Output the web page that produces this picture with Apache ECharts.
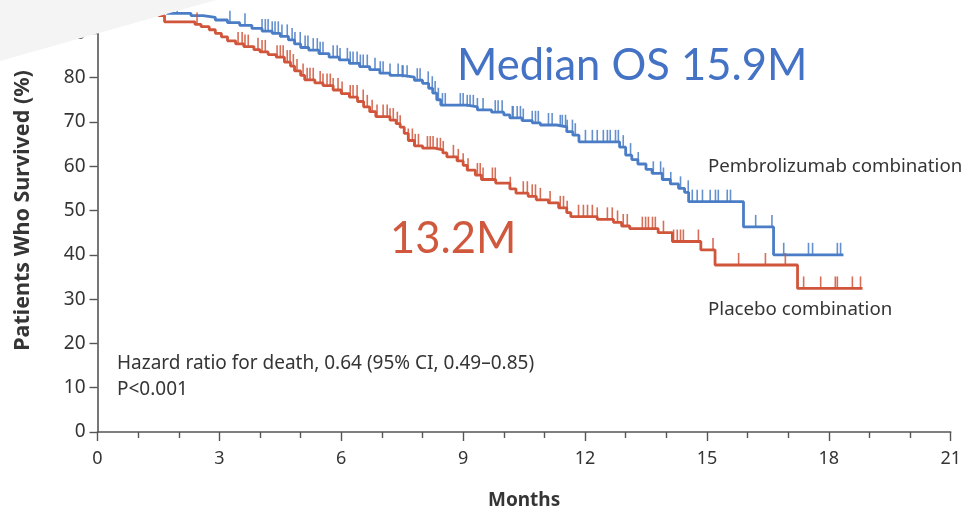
<!DOCTYPE html>
<html>
<head>
<meta charset="utf-8">
<script src="https://cdn.jsdelivr.net/npm/echarts@6/dist/echarts.min.js"></script>
<style>
  html, body { margin: 0; padding: 0; background: #ffffff; }
  #chart { width: 966px; height: 512px; }
</style>
</head>
<body>
<div id="chart"></div>
<script>
// Axis ticks
const monthTicks = [0, 3, 6, 9, 12, 15, 18, 21];
const survivalTicks = [0, 10, 20, 30, 40, 50, 60, 70, 80, 90, 100];

// Kaplan-Meier steps: [month, % surviving after the step]
const pembroSteps = [
  [0, 100], [0.25, 99.3], [0.5, 98.6], [0.8, 97.8], [1.05, 97], [1.3, 96], [1.5, 95.2], [1.7, 94.5],
  [2.3, 94], [2.6, 93.6], [2.9, 93], [3.2, 92.4], [3.5, 91.8], [3.8, 91.1], [4.05, 90.5], [4.3, 90],
  [4.5, 89.3], [4.7, 88.5], [4.85, 87.6], [5.0, 86.8], [5.2, 86.2], [5.45, 85.4], [5.7, 84.6],
  [5.95, 84], [6.2, 83.2], [6.45, 82.5], [6.7, 81.8], [6.95, 81], [7.2, 80.5], [7.5, 80.1],
  [7.8, 79.4], [8.0, 78.7], [8.15, 77.6], [8.25, 76.5], [8.35, 75], [8.45, 73.8], [9.1, 73.4],
  [9.35, 72.7], [9.7, 72.2], [10.0, 71.6], [10.15, 70.9], [10.45, 70.3], [10.7, 69.8], [10.9, 69.3],
  [11.3, 68.9], [11.55, 67.8], [11.7, 67], [11.85, 65.5], [12.85, 64.3], [13.0, 62.5], [13.15, 61.5],
  [13.3, 60.5], [13.5, 59.3], [13.65, 58.4], [13.9, 57], [14.1, 56], [14.3, 55], [14.45, 54.1],
  [14.55, 52], [15.9, 46.3], [16.64, 40], [18.36, 40]
];
const placeboSteps = [
  [0, 100], [0.3, 99.2], [0.6, 98.3], [0.9, 97.4], [1.15, 96.4], [1.35, 95.3], [1.5, 94], [1.65, 92.6],
  [2.4, 92], [2.55, 91.5], [2.75, 90.8], [2.9, 90], [3.05, 89.2], [3.2, 88.3], [3.4, 87.6], [3.6, 87],
  [3.85, 86.3], [4.0, 85.8], [4.2, 85.2], [4.4, 84.6], [4.6, 83.5], [4.75, 82.6], [4.85, 81.5],
  [5.0, 80.5], [5.1, 79.5], [5.35, 78.8], [5.55, 78.2], [5.8, 77.2], [6.0, 76.4], [6.2, 75.6],
  [6.4, 74.6], [6.55, 73.4], [6.7, 72.3], [6.85, 71.2], [7.2, 70.4], [7.35, 69.6], [7.45, 68.8],
  [7.55, 67.4], [7.65, 65.8], [7.8, 64.6], [8.0, 64.1], [8.3, 63.7], [8.5, 63], [8.6, 62.1],
  [8.85, 61.2], [9.0, 60.2], [9.1, 59.1], [9.3, 58], [9.45, 57], [9.8, 56.2], [10.15, 54.9],
  [10.3, 53.9], [10.6, 53.2], [10.8, 52.4], [11.1, 51.7], [11.35, 50.6], [11.55, 49.5], [11.65, 48.6],
  [12.3, 48], [12.7, 47.3], [12.9, 46.5], [13.1, 45.9], [13.8, 45], [14.15, 43], [14.85, 41.1],
  [15.2, 37.7], [17.23, 32.4], [18.83, 32.4]
];

// Censored observations (months)
const pembroCensored = [
  1.96, 3.26, 3.63, 4.05, 4.13, 4.2, 4.3, 4.37, 4.45, 4.54, 4.67, 4.79, 4.86, 4.99, 5.11, 5.18,
  5.31, 5.41, 5.48, 5.55, 5.8, 5.9, 5.97, 6.15, 6.22, 6.29, 6.39, 6.47, 6.54, 6.64, 6.83, 6.96,
  7.03, 7.2, 7.4, 7.5, 7.52, 7.62, 7.87, 7.94, 8.14, 8.24, 8.31, 8.39, 8.49, 8.56, 8.93, 9.0,
  9.1, 9.17, 9.25, 9.35, 9.49, 9.79, 9.86, 9.96, 10.21, 10.23, 10.33, 10.41, 10.48, 10.7, 10.78,
  10.85, 11.1, 11.19, 11.39, 11.44, 11.52, 11.56, 11.69, 11.76, 12.01, 12.18, 12.3, 12.45, 12.55,
  12.62, 12.75, 12.82, 12.94, 13.12, 13.31, 13.68, 13.86, 13.93, 14.11, 14.35, 14.54, 14.64,
  14.76, 14.89, 15.08, 15.21, 15.28, 15.5, 15.58, 16.2, 16.6, 16.89, 17.5, 17.6, 18.21, 18.29
];
const placeboCensored = [
  2.45, 3.46, 3.56, 3.63, 3.71, 3.95, 4.05, 4.13, 4.42, 4.5, 4.57, 4.67, 4.74, 4.82, 4.91, 5.06,
  5.16, 5.23, 5.31, 5.48, 5.55, 5.65, 5.73, 5.8, 5.92, 6.02, 6.22, 6.29, 6.39, 6.54, 6.64, 6.76,
  6.88, 7.03, 7.13, 7.2, 7.28, 7.38, 7.45, 7.65, 7.75, 7.82, 7.9, 8.12, 8.19, 8.26, 8.36, 8.44,
  8.51, 8.76, 8.88, 9.0, 9.12, 9.35, 9.42, 9.49, 9.72, 9.79, 10.16, 10.48, 10.58, 10.7, 10.78,
  10.9, 11.14, 11.39, 11.47, 11.56, 11.84, 11.96, 12.06, 12.18, 12.3, 12.55, 12.67, 12.8, 12.94,
  13.04, 13.41, 13.49, 13.56, 13.66, 13.73, 13.93, 14.18, 14.27, 14.35, 14.42, 14.79, 15.15,
  15.78, 16.44, 16.93, 17.38, 17.8, 18.16, 18.21, 18.58, 18.78
];

const BLUE = '#4a7dc6';
const RED = '#d0553a';
const INK = '#353535';
const FONT = 'Noto Sans';

// survival level of a step curve at a given month
function levelAt(steps, t) {
  let v = steps[0][1];
  for (const [m, s] of steps) { if (m <= t) v = s; else break; }
  return v;
}
const censorPoints = (steps, times) => times.map(t => [t, levelAt(steps, t)]);

const chart = echarts.init(document.getElementById('chart'), null, { renderer: 'canvas' });

const censorSeries = (name, data, color) => ({
  name, type: 'scatter', data,
  symbol: 'rect', symbolSize: [1.6, 12], symbolOffset: [0, -6],
  itemStyle: { color, opacity: 0.85 },
  silent: true, z: 3
});

chart.setOption({
  animation: false,
  grid: { left: 97.5, right: 15.3, top: -11, bottom: 80, containLabel: false, outerBoundsMode: 'none' },
  xAxis: {
    type: 'value',
    min: monthTicks[0], max: monthTicks[monthTicks.length - 1],
    interval: monthTicks[1] - monthTicks[0],
    name: 'Months', nameLocation: 'middle', nameGap: 59,
    nameTextStyle: { fontFamily: FONT, fontSize: 19, fontWeight: 'bold', color: INK },
    axisLine: { show: true, lineStyle: { color: '#555', width: 1.6 } },
    axisTick: { show: true, length: 9, lineStyle: { color: '#555', width: 1.4 } },
    minorTick: { show: true, splitNumber: 3, length: 6, lineStyle: { color: '#555', width: 1.4 } },
    axisLabel: { fontFamily: FONT, fontSize: 18, color: INK, margin: 18 },
    splitLine: { show: false }
  },
  yAxis: {
    type: 'value',
    min: survivalTicks[0], max: survivalTicks[survivalTicks.length - 1],
    interval: survivalTicks[1] - survivalTicks[0],
    name: 'Patients Who Survived (%)', nameLocation: 'middle', nameGap: 64,
    nameTextStyle: { fontFamily: FONT, fontSize: 21.5, fontWeight: 'bold', color: INK },
    axisLine: { show: true, lineStyle: { color: '#555', width: 1.6 } },
    axisTick: { show: true, length: 8, lineStyle: { color: '#555', width: 1.4 } },
    axisLabel: { fontFamily: FONT, fontSize: 19, color: INK, margin: 12 },
    splitLine: { show: false }
  },
  series: [
    {
      name: 'Placebo combination', type: 'line', step: 'end', data: placeboSteps,
      showSymbol: false, lineStyle: { color: RED, width: 2.8 }, z: 2, silent: true
    },
    {
      name: 'Pembrolizumab combination', type: 'line', step: 'end', data: pembroSteps,
      showSymbol: false, lineStyle: { color: BLUE, width: 2.8 }, z: 2, silent: true
    },
    censorSeries('Placebo censored', censorPoints(placeboSteps, placeboCensored), RED),
    censorSeries('Pembrolizumab censored', censorPoints(pembroSteps, pembroCensored), BLUE)
  ],
  graphic: [
    { type: 'text', left: 708, top: 157, style: { text: 'Pembrolizumab combination', fontFamily: FONT, fontSize: 18.7, fill: INK } },
    { type: 'text', left: 708, top: 300, style: { text: 'Placebo combination', fontFamily: FONT, fontSize: 18.7, fill: INK } },
    { type: 'text', left: 117, top: 354, style: { text: 'Hazard ratio for death, 0.64 (95% CI, 0.49\u20130.85)', fontFamily: FONT, fontSize: 19, fill: INK } },
    { type: 'text', left: 117, top: 380, style: { text: 'P<0.001', fontFamily: FONT, fontSize: 19, fill: INK } },
    { type: 'text', left: 457, top: 44, style: { text: 'Median OS 15.9M', fontFamily: 'Lato', fontSize: 43.5, fill: '#4472c4' } },
    { type: 'text', left: 390, top: 217, style: { text: '13.2M', fontFamily: 'Lato', fontSize: 43.5, fill: '#d0583c' } },
    // pale slanted panel across the top-left corner
    { type: 'polygon', z: 100, shape: { points: [[0, 0], [216, 0], [0, 61]] }, style: { fill: '#f4f4f4' } }
  ]
});
</script>
</body>
</html>
